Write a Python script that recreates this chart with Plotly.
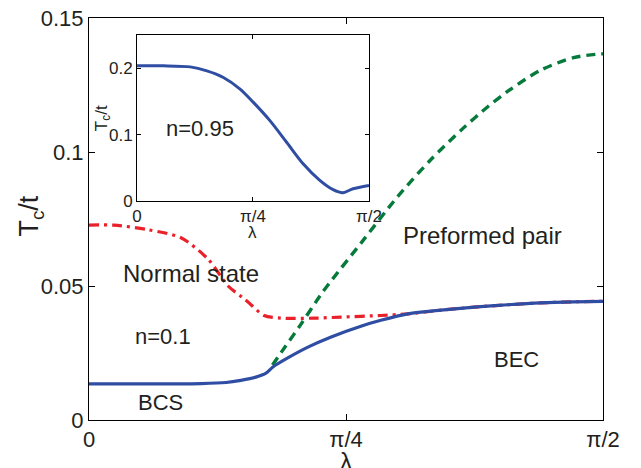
import numpy as np
import plotly.graph_objects as go

PI = np.pi

# ---- main panel data (n = 0.1) ----
blue_lam = [0.0, 0.19, 0.342, 0.419, 0.464, 0.510, 0.541, 0.562, 0.602, 0.669, 0.740, 0.831,
            0.892, 0.975, 1.076, 1.177, 1.280, 1.381, 1.482, 1.5708]
blue_T = [0.0135, 0.0135, 0.0136, 0.0140, 0.0148, 0.0160, 0.0175, 0.0198, 0.0228, 0.0272, 0.0310,
          0.0350, 0.0372, 0.0396, 0.0410, 0.0421, 0.0430, 0.0437, 0.0441, 0.0443]

red_lam = [0.0, 0.076, 0.180, 0.281, 0.364, 0.425, 0.464, 0.486, 0.535, 0.587, 0.688, 0.770,
           0.892, 0.975, 1.076, 1.177, 1.280, 1.381, 1.482, 1.5708]
red_T = [0.0727, 0.0727, 0.0710, 0.0680, 0.0600, 0.0500, 0.0462, 0.0440, 0.0390, 0.0380, 0.0380,
         0.0384, 0.0390, 0.0396, 0.0410, 0.0421, 0.0430, 0.0437, 0.0441, 0.0443]

green_lam = [0.5608, 0.6005, 0.6464, 0.7075, 0.7380, 0.8389, 0.9428, 1.0436, 1.1445, 1.2178,
             1.2790, 1.3798, 1.4806, 1.5631, 1.5708]
green_T = [0.0205, 0.0275, 0.0355, 0.0466, 0.0516, 0.0672, 0.0833, 0.0970, 0.1090, 0.1168,
           0.1226, 0.1305, 0.1352, 0.1366, 0.1366]

# ---- inset data (n = 0.95) ----
inset_lam = [0.0, 0.180, 0.360, 0.473, 0.585, 0.698, 0.788, 0.900, 1.013, 1.125, 1.238,
             1.328, 1.395, 1.463, 1.5708]
inset_T = [0.2035, 0.2035, 0.2020, 0.1960, 0.1860, 0.1685, 0.1485, 0.1210, 0.0885, 0.0560,
           0.0310, 0.0170, 0.0125, 0.0185, 0.0235]

x_tickvals = [0, PI / 4, PI / 2]
x_ticktext = ["0", "π/4", "π/2"]
main_y_ticks = [0, 0.05, 0.1, 0.15]
main_y_text = ["0", "0.05", "0.1", "0.15"]
inset_y_ticks = [0, 0.1, 0.2]
inset_y_text = ["0", "0.1", "0.2"]

BLUE = "#2f4ea3"
RED = "#e9212b"
GREEN = "#067a3b"
TXT = "#231f20"
FONT = "Liberation Sans, Arial, sans-serif"

fig = go.Figure()
fig.add_trace(go.Scatter(x=red_lam, y=red_T, mode="lines", line=dict(color=RED, width=3.2,
              dash="10px,5px,3px,5px", shape="spline", smoothing=0.8), xaxis="x", yaxis="y"))
fig.add_trace(go.Scatter(x=green_lam, y=green_T, mode="lines", line=dict(color=GREEN, width=3.4,
              dash="9px,6px", shape="spline", smoothing=0.8), xaxis="x", yaxis="y"))
fig.add_trace(go.Scatter(x=blue_lam, y=blue_T, mode="lines", line=dict(color=BLUE, width=3.2,
              shape="spline", smoothing=0.8), xaxis="x", yaxis="y"))
fig.add_trace(go.Scatter(x=inset_lam, y=inset_T, mode="lines", line=dict(color=BLUE, width=3.0,
              shape="spline", smoothing=0.8), xaxis="x2", yaxis="y2"))

axis_common = dict(showline=True, linecolor="black", linewidth=1, mirror="ticks",
                   ticks="inside", tickcolor="black", showgrid=False, zeroline=False,
                   automargin=False, ticklabeloverflow="allow")

# the page body adds an 8 px offset; margins compensate so the plot box lands at
# x 89..603, y 18..420 of the window
fig.update_layout(
    width=633, height=460,
    margin=dict(l=81, r=38, t=10, b=48),
    paper_bgcolor="white", plot_bgcolor="white",
    showlegend=False,
    font=dict(family=FONT, color=TXT),
    xaxis=dict(axis_common, domain=[0, 1], range=[0, PI / 2], tickvals=x_tickvals,
               ticktext=x_ticktext, ticklen=6, tickfont=dict(size=22), anchor="y"),
    yaxis=dict(axis_common, domain=[0, 1], range=[0, 0.15], tickvals=main_y_ticks,
               ticktext=main_y_text, ticklen=6, tickfont=dict(size=22), anchor="x"),
    xaxis2=dict(axis_common, domain=[0.0934, 0.5447], range=[0, PI / 2], tickvals=x_tickvals,
                ticktext=x_ticktext, ticklen=4, tickfont=dict(size=17), anchor="y2"),
    yaxis2=dict(axis_common, domain=[0.5448, 0.9577], range=[0, 0.25], tickvals=inset_y_ticks,
                ticktext=inset_y_text, ticklen=4, tickfont=dict(size=17), anchor="x2"),
)

# axis titles
titles = [
    ("λ", 0.5, -0.102, 24, 0),
    ("T<sub>c</sub>/t", -0.1128, 0.506, 27, -90),
    ("λ", 0.319, 0.466, 17, 0),
    ("T<sub>c</sub>/t", 0.0273, 0.751, 17, -90),
]
for txt, px, py, sz, ang in titles:
    fig.add_annotation(text=txt, x=px, y=py, xref="paper", yref="paper", showarrow=False,
                       textangle=ang, font=dict(size=sz, family=FONT, color=TXT),
                       xanchor="center", yanchor="middle")

annots = [
    ("Normal state", 0.313, 0.0545, 24, "x", "y"),
    ("Preformed pair", 1.2026, 0.0687, 24, "x", "y"),
    ("n=0.1", 0.227, 0.0313, 22, "x", "y"),
    ("BEC", 1.3065, 0.0224, 22, "x", "y"),
    ("BCS", 0.2185, 0.0067, 22, "x", "y"),
    ("n=0.95", 0.4266, 0.1096, 22, "x2", "y2"),
]
for txt, ax, ay, sz, xr, yr in annots:
    fig.add_annotation(text=txt, x=ax, y=ay, xref=xr, yref=yr, showarrow=False,
                       font=dict(size=sz, family=FONT, color=TXT),
                       xanchor="center", yanchor="middle")

fig.write_html("out.html")
